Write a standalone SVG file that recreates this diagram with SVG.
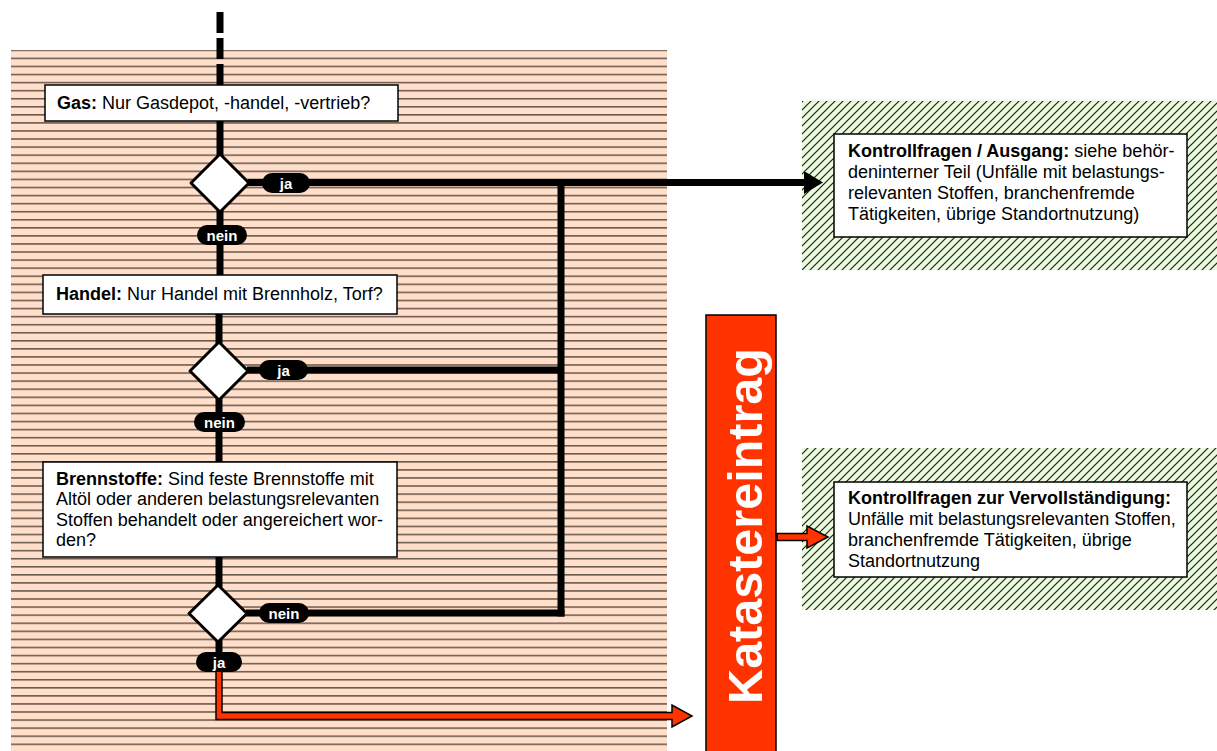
<svg xmlns="http://www.w3.org/2000/svg" width="1217" height="751" viewBox="0 0 1217 751">
<defs>
<pattern id="peach" x="0" y="49.5" width="20" height="8.07" patternUnits="userSpaceOnUse">
<rect width="20" height="8.07" fill="#ffdfc9"/>
<line x1="0" y1="0.8" x2="20" y2="0.8" stroke="#3e322c" stroke-width="1.2"/>
</pattern>
<pattern id="green" x="0" y="0" width="8" height="8" patternUnits="userSpaceOnUse">
<rect width="8" height="8" fill="#eafbdc"/>
<path d="M-1,9 L9,-1 M-2,2 L2,-2 M6,10 L10,6" stroke="#1e1e1e" stroke-width="1.2"/>
</pattern>
</defs>
<style>
.box{fill:#fff;stroke:#000;stroke-width:1.5}
.dia{fill:#fff;stroke:#000;stroke-width:3;stroke-linejoin:round}
.pill{fill:#000}
.pt{font-family:"Liberation Sans",Arial,sans-serif;font-weight:bold;font-size:15px;fill:#fff;text-anchor:middle}
.t{font-family:"Liberation Sans",Arial,sans-serif;font-size:18px;fill:#000}
.b{font-weight:bold}
.flow{stroke:#000;stroke-width:7;fill:none}
.red{fill:#ff3300;stroke:#000;stroke-width:1.5;stroke-linejoin:miter}
</style>
<rect id="bg" width="1217" height="751" fill="#fff"/>
<rect id="panel" x="11" y="50" width="656" height="701" fill="url(#peach)"/>
<rect id="hatch1" x="802" y="101" width="415" height="169" fill="url(#green)"/>
<rect id="hatch2" x="802" y="448" width="415" height="162" fill="url(#green)"/>
<g id="connectors">
<line class="flow" x1="220" y1="12" x2="220" y2="85" stroke-dasharray="21 5"/>
<line class="flow" x1="220" y1="121" x2="220" y2="156"/>
<line class="flow" x1="220" y1="210" x2="220" y2="275"/>
<line class="flow" x1="219" y1="314" x2="219" y2="344"/>
<line class="flow" x1="219" y1="398" x2="219" y2="462"/>
<line class="flow" x1="219" y1="557" x2="219" y2="587"/>
<line class="flow" x1="219" y1="640" x2="219" y2="660"/>
<line class="flow" x1="248" y1="182.5" x2="806" y2="182.5"/>
<polygon points="804,171 823,182.5 804,194" fill="#000"/>
<line class="flow" x1="247" y1="370" x2="561" y2="370"/>
<line class="flow" x1="246" y1="613" x2="564.5" y2="613"/>
<line class="flow" x1="561" y1="179" x2="561" y2="616.5"/>
<polygon class="red" points="216,668 222,668 222,712.5 672,712.5 672,705 692,716 672,727 672,719.5 216,719.5"/>
<polygon class="red" points="777,533.5 807,533.5 807,526 828,537 807,548 807,540.5 777,540.5"/>
</g>
<g id="n-gas">
<rect class="box" x="45" y="85" width="353" height="36"/>
<text class="t" x="57" y="109"><tspan class="b">Gas:</tspan> Nur Gasdepot, -handel, -vertrieb?</text>
</g>
<g id="d-gas">
<polygon class="dia" points="220,154 249,183 220,212 191,183"/>
</g>
<g id="l-ja1"><rect class="pill" x="262" y="173" width="48" height="20" rx="10"/><text class="pt" x="286" y="188.5">ja</text></g>
<g id="l-nein1"><rect class="pill" x="197" y="225" width="50" height="20" rx="10"/><text class="pt" x="222" y="240.5">nein</text></g>
<g id="n-handel">
<rect class="box" x="43" y="275" width="354" height="39"/>
<text class="t" x="56" y="300"><tspan class="b">Handel:</tspan> Nur Handel mit Brennholz, Torf?</text>
</g>
<g id="d-handel">
<polygon class="dia" points="219,342 248,371 219,400 190,371"/>
</g>
<g id="l-ja2"><rect class="pill" x="259" y="360" width="49" height="20" rx="10"/><text class="pt" x="283.5" y="375.5">ja</text></g>
<g id="l-nein2"><rect class="pill" x="194" y="412" width="51" height="20" rx="10"/><text class="pt" x="219.5" y="427.5">nein</text></g>
<g id="n-brenn">
<rect class="box" x="43" y="462" width="354" height="95"/>
<text class="t" x="56" y="484.5"><tspan class="b">Brennstoffe:</tspan> Sind feste Brennstoffe mit</text>
<text class="t" x="56" y="505">Altöl oder anderen belastungsrelevanten</text>
<text class="t" x="56" y="525.5">Stoffen behandelt oder angereichert wor-</text>
<text class="t" x="56" y="546">den?</text>
</g>
<g id="d-brenn">
<polygon class="dia" points="218,585 247,613.5 218,642 189,613.5"/>
</g>
<g id="l-nein3"><rect class="pill" x="259" y="603" width="50" height="20" rx="10"/><text class="pt" x="284" y="618.5">nein</text></g>
<g id="l-ja3"><rect class="pill" x="196" y="652" width="46" height="20" rx="10"/><text class="pt" x="219" y="667.5">ja</text></g>
<g id="n-kataster">
<rect x="706" y="315" width="70" height="440" fill="#ff3300" stroke="#000" stroke-width="1.5"/>
<text transform="translate(762,526) rotate(-90)" font-family="'Liberation Sans',Arial,sans-serif" font-weight="bold" font-size="48.5" fill="#fff" text-anchor="middle">Katastereintrag</text>
</g>
<g id="n-ausgang">
<rect class="box" x="834" y="134" width="353" height="103"/>
<text class="t" x="848" y="157"><tspan class="b">Kontrollfragen / Ausgang:</tspan> siehe behör-</text>
<text class="t" x="848" y="178">deninterner Teil (Unfälle mit belastungs-</text>
<text class="t" x="848" y="199">relevanten Stoffen, branchenfremde</text>
<text class="t" x="848" y="220">Tätigkeiten, übrige Standortnutzung)</text>
</g>
<g id="n-vervoll">
<rect class="box" x="834" y="482" width="353" height="95"/>
<text class="t b" x="848" y="504">Kontrollfragen zur Vervollständigung:</text>
<text class="t" x="848" y="525">Unfälle mit belastungsrelevanten Stoffen,</text>
<text class="t" x="848" y="546">branchenfremde Tätigkeiten, übrige</text>
<text class="t" x="848" y="567">Standortnutzung</text>
</g>
</svg>
